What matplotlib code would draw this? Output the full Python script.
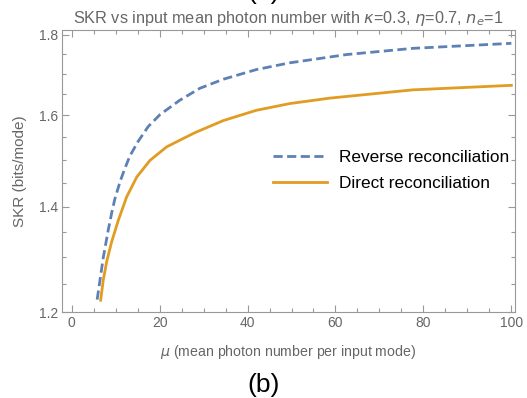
import matplotlib
matplotlib.use('Agg')
import matplotlib.pyplot as plt
from matplotlib.ticker import FixedLocator, FixedFormatter, NullFormatter

plt.rcParams['font.family'] = ['Liberation Sans', 'DejaVu Sans']

# values
mu_rr = [5.8, 7.2, 8.3, 9.1, 9.8, 11.0, 12.0, 13.25, 15.1, 17.4, 20.1, 24.6, 29.2, 34.5, 42.0,
         49.6, 56.4, 62.5, 77.6, 100]
skr_rr = [1.222, 1.300, 1.352, 1.387, 1.415, 1.452, 1.478, 1.508, 1.540, 1.574, 1.602, 1.636, 1.665,
          1.687, 1.711, 1.728, 1.739, 1.749, 1.765, 1.778]
mu_dr = [6.6, 7.2, 8.0, 9.1, 10.6, 12.5, 14.8, 17.8, 21.6, 24.6, 28.0, 34.5, 42.0, 49.6, 58.7, 77.6, 100]
skr_dr = [1.221, 1.258, 1.293, 1.330, 1.372, 1.420, 1.462, 1.498, 1.528, 1.543, 1.560, 1.588, 1.612,
          1.628, 1.641, 1.661, 1.672]

yticks = [1.2, 1.4, 1.6, 1.8]
yminor = [1.25, 1.3, 1.35, 1.45, 1.5, 1.55, 1.65, 1.7, 1.75]
xticks = [0, 20, 40, 60, 80, 100]

gray = '#666666'
fig = plt.figure(figsize=(5.27, 3.98), dpi=100)
ax = fig.add_axes([0.1176, 0.216, 0.8594, 0.7086])

ax.plot(mu_rr, skr_rr, color='#5E81B5', lw=2, ls=(0, (3.3, 1.6)), label='Reverse reconciliation')
ax.plot(mu_dr, skr_dr, color='#E19C24', lw=2, label='Direct reconciliation')

ax.set_yscale('log')
ax.set_xlim(-2.2, 100.8)
ax.set_ylim(1.2, 1.813)
ax.yaxis.set_major_locator(FixedLocator(yticks))
ax.yaxis.set_major_formatter(FixedFormatter([str(t) for t in yticks]))
ax.yaxis.set_minor_locator(FixedLocator(yminor))
ax.yaxis.set_minor_formatter(NullFormatter())
ax.set_xticks(xticks)
ax.set_xticks(range(5, 100, 5), minor=True)

for s in ax.spines.values():
    s.set_color('#999999')
ax.tick_params(which='both', direction='in', top=True, right=True, colors='#999999',
               labelcolor=gray, labelsize=10, width=0.8, pad=3)
ax.tick_params(which='major', length=5)
ax.tick_params(which='minor', length=3)

ax.set_xlabel(r'$\mu$ (mean photon number per input mode)', color=gray, fontsize=10.2, labelpad=9)
ax.set_ylabel('SKR (bits/mode)', color=gray, fontsize=11, labelpad=8)
ax.set_title(r'SKR vs input mean photon number with $\kappa$=0.3, $\eta$=0.7, $n_e$=1',
             color=gray, fontsize=11.7, pad=5)

ax.legend(loc='center right', bbox_to_anchor=(1.0, 0.502), frameon=False, fontsize=12.4,
          handlelength=3.1, handletextpad=0.75, labelspacing=0.65, borderaxespad=0, borderpad=0.3)

fig.text(0.5, 0.033, '(b)', ha='center', va='center', fontsize=19)
fig.text(0.5, 1.02, '(a)', ha='center', va='center', fontsize=19)

fig.savefig('out.png', dpi=100)
